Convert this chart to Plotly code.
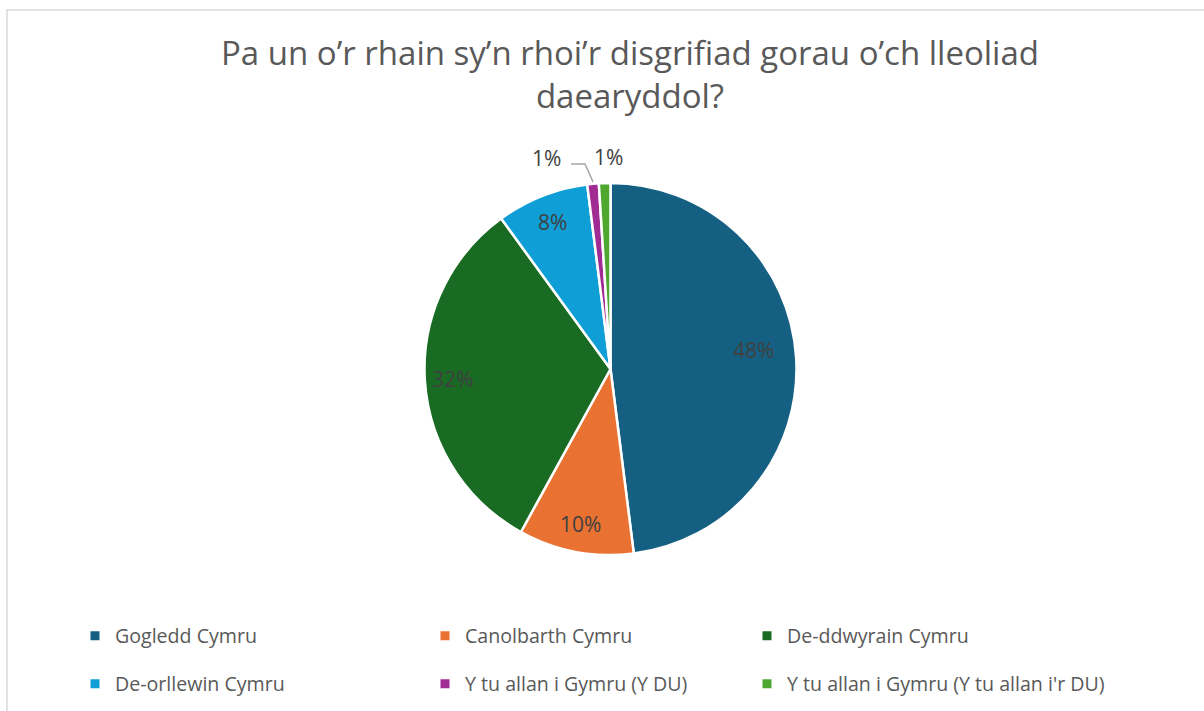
import math
import plotly.graph_objects as go

categories = ["Gogledd Cymru", "Canolbarth Cymru", "De-ddwyrain Cymru",
              "De-orllewin Cymru", "Y tu allan i Gymru (Y DU)",
              "Y tu allan i Gymru (Y tu allan i'r DU)"]
values = [48, 10, 32, 8, 1, 1]
colors = ["#156082", "#E97132", "#196B24", "#0F9ED5", "#A02B93", "#4EA72E"]
title_text = "Pa un o’r rhain sy’n rhoi’r disgrifiad gorau o’ch lleoliad<br>daearyddol?"

W, H = 1204, 711
FONT = "Open Sans"
CX, CY, R = 610.5, 369, 186  # pie centre / radius in pixels

def px(x):
    return x / W

def py(y):
    return 1 - y / H

fig = go.Figure()
fig.add_trace(go.Pie(
    labels=categories, values=values, sort=False, direction="clockwise",
    rotation=0, marker=dict(colors=colors, line=dict(color="white", width=2.5)),
    textinfo="none", hoverinfo="label+percent", showlegend=False,
    domain=dict(x=[px(CX - R), px(CX + R)], y=[py(CY + R), py(CY - R)]),
))

# data labels computed from the slice angles
total = sum(values)
cum = 0
annotations = []
shapes = []
mids = []
for v in values:
    a0 = cum / total * 360
    cum += v
    a1 = cum / total * 360
    mids.append((a0 + a1) / 2)
for i, (v, m) in enumerate(zip(values, mids)):
    pct = f"{round(v / total * 100)}%"
    if v / total >= 0.05:
        rr = 0.80 * R if i == 0 else 0.85 * R
        lx = CX + rr * math.sin(math.radians(m))
        ly = CY - rr * math.cos(math.radians(m))
        if i == 0:
            lx -= 6
            ly -= 10
    else:
        rr = 1.14 * R
        lx = CX + rr * math.sin(math.radians(m))
        ly = CY - rr * math.cos(math.radians(m))
        if i == len(values) - 2:
            # pushed left with a leader line
            ex = CX + R * math.sin(math.radians(m))
            ey = CY - R * math.cos(math.radians(m))
            lx = ex - 46
            shapes.append(dict(type="path", xref="paper", yref="paper",
                               path=f"M {px(ex)} {py(ey - 2)} L {px(ex - 8)} {py(ly + 6)} L {px(lx + 24)} {py(ly + 6)}",
                               line=dict(color="#A6A6A6", width=1.5)))
        else:
            lx = lx + 5
    annotations.append(dict(x=px(lx), y=py(ly), xref="paper", yref="paper",
                            text=pct, showarrow=False, xanchor="center", yanchor="middle",
                            font=dict(family=FONT, size=21, color="#404040")))

# border of chart area
shapes.append(dict(type="rect", xref="paper", yref="paper", x0=px(7), y0=-0.1,
                   x1=1.1, y1=py(10), line=dict(color="#D9D9D9", width=1.5),
                   fillcolor="rgba(0,0,0,0)", layer="below"))

# legend (one legend per entry, 3 columns x 2 rows)
col_x = [95, 445, 767]
row_y = [636, 684]
legend_layouts = {}
for i, (c, col) in enumerate(zip(categories, colors)):
    key = "legend" if i == 0 else f"legend{i + 1}"
    fig.add_trace(go.Scatter(x=[None], y=[None], mode="markers", name=c,
                             marker=dict(symbol="square", size=9, color=col),
                             legend=key, showlegend=True, hoverinfo="skip"))
    legend_layouts[key] = dict(
        x=px(col_x[i % 3] - 20), y=py(row_y[i // 3]), xanchor="left", yanchor="middle",
        orientation="v", bgcolor="rgba(0,0,0,0)", borderwidth=0,
        font=dict(family=FONT, size=19.6, color="#595959"), itemclick=False,
        itemdoubleclick=False,
    )

fig.update_layout(
    width=W, height=H, margin=dict(l=0, r=0, t=0, b=0),
    paper_bgcolor="white", plot_bgcolor="white",
    title=dict(text=title_text, x=px(630), y=py(65), xanchor="center", yanchor="middle",
               font=dict(family=FONT, size=33, color="#595959")),
    xaxis=dict(visible=False), yaxis=dict(visible=False),
    annotations=annotations, shapes=shapes,
    **legend_layouts,
)

fig.write_html("out.html", config={"displayModeBar": False},
               post_script="document.body.style.margin='0';")
